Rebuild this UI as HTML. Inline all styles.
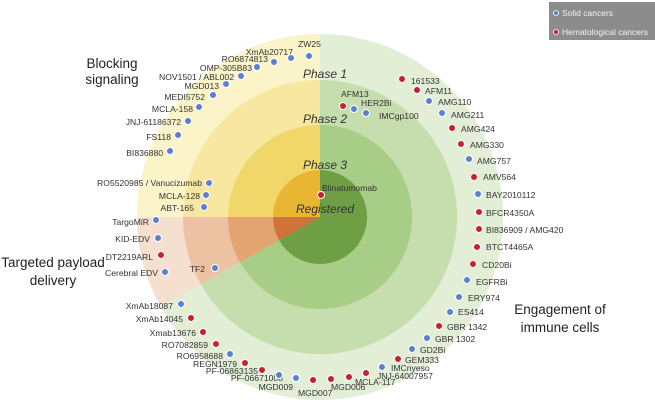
<!DOCTYPE html>
<html><head><meta charset="utf-8"><style>
html,body{margin:0;padding:0;background:#fff;}
svg{display:block;font-family:"Liberation Sans",sans-serif;}
.l{font-size:8.6px;fill:#333;}
.e{text-anchor:end;}
.ph{font-size:12px;font-style:italic;fill:#333;}
.big{font-size:13.5px;fill:#222;text-anchor:middle;}
.b{fill:#5b7fd1;stroke:#fff;stroke-width:1;}
.r{fill:#c8202f;stroke:#fff;stroke-width:1;}
</style></head><body>
<svg width="655" height="407" viewBox="0 0 655 407" xmlns="http://www.w3.org/2000/svg">
<path d="M320 217 L320 34 A183 183 0 1 1 160.8 307 Z" fill="#e2eed6"/>
<path d="M320 217 L160.8 307 A183 183 0 0 1 137 217 Z" fill="#f5dfcf"/>
<path d="M320 217 L137 217 A183 183 0 0 1 320 34 Z" fill="#fbf4c8"/>
<path d="M320 217 L320 80 A137 137 0 1 1 200.8 284.4 Z" fill="#c6deae"/>
<path d="M320 217 L200.8 284.4 A137 137 0 0 1 183 217 Z" fill="#ecc2a2"/>
<path d="M320 217 L183 217 A137 137 0 0 1 320 80 Z" fill="#f7e7a0"/>
<path d="M320 217 L320 125 A92 92 0 1 1 240 262.3 Z" fill="#a8cd86"/>
<path d="M320 217 L240 262.3 A92 92 0 0 1 228 217 Z" fill="#e3a471"/>
<path d="M320 217 L228 217 A92 92 0 0 1 320 125 Z" fill="#f1d66a"/>
<path d="M320 217 L320 170 A47 47 0 1 1 279.1 240.1 Z" fill="#6f9f45"/>
<path d="M320 217 L279.1 240.1 A47 47 0 0 1 273 217 Z" fill="#d0733a"/>
<path d="M320 217 L273 217 A47 47 0 0 1 320 170 Z" fill="#e8b632"/>

<text class="ph" x="303" y="78">Phase 1</text>
<text class="ph" x="303" y="123">Phase 2</text>
<text class="ph" x="303" y="169">Phase 3</text>
<text class="ph" x="296" y="213">Registered</text>

<text class="big" x="112" y="68">Blocking</text>
<text class="big" x="112" y="84">signaling</text>
<text class="big" x="53" y="267">Targeted payload</text>
<text class="big" x="53" y="285">delivery</text>
<text class="big" x="560" y="314">Engagement of</text>
<text class="big" x="560" y="332">immune cells</text>

<rect x="549" y="2" width="106" height="38" fill="#8c8c8c"/>
<circle cx="556" cy="13" r="2.5" fill="#5b7fd1" stroke="#fff" stroke-width="0.8"/>
<text x="562" y="16" font-size="8.5" fill="#f2f2f2">Solid cancers</text>
<circle cx="556" cy="32" r="2.5" fill="#c8202f" stroke="#fff" stroke-width="0.8"/>
<text x="562" y="35" font-size="8.5" fill="#f2f2f2">Hematological cancers</text>

<text class="l" x="298" y="47">ZW25</text><circle class="b" cx="309" cy="56" r="3.5"/>
<text class="l e" x="293" y="55">XmAb20717</text><circle class="b" cx="291" cy="58" r="3.5"/>
<text class="l e" x="268" y="62">RO6874813</text><circle class="b" cx="274" cy="62" r="3.5"/>
<text class="l e" x="252" y="71">OMP-305B83</text><circle class="b" cx="257" cy="67" r="3.5"/>
<text class="l e" x="234" y="80">NOV1501 / ABL002</text><circle class="b" cx="241" cy="76" r="3.5"/>
<text class="l e" x="219" y="89">MGD013</text><circle class="b" cx="226" cy="84" r="3.5"/>
<text class="l e" x="205" y="100">MEDI5752</text><circle class="b" cx="213" cy="95" r="3.5"/>
<text class="l e" x="193" y="112">MCLA-158</text><circle class="b" cx="199" cy="107" r="3.5"/>
<text class="l e" x="181" y="125">JNJ-61186372</text><circle class="b" cx="188" cy="121" r="3.5"/>
<text class="l e" x="171" y="140">FS118</text><circle class="b" cx="178" cy="135" r="3.5"/>
<text class="l e" x="163" y="156">BI836880</text><circle class="b" cx="170" cy="151" r="3.5"/>
<text class="l e" x="202" y="186">RO5520985 / Vanucizumab</text><circle class="b" cx="209" cy="183" r="3.5"/>
<text class="l e" x="200" y="199">MCLA-128</text><circle class="b" cx="206" cy="195" r="3.5"/>
<text class="l e" x="194" y="211">ABT-165</text><circle class="b" cx="204" cy="207" r="3.5"/>

<text class="l e" x="149" y="225">TargoMiR</text><circle class="b" cx="156" cy="220" r="3.5"/>
<text class="l e" x="150" y="242">KID-EDV</text><circle class="b" cx="158" cy="238" r="3.5"/>
<text class="l e" x="153" y="260">DT2219ARL</text><circle class="r" cx="161" cy="255" r="3.5"/>
<text class="l e" x="158" y="276">Cerebral EDV</text><circle class="b" cx="165" cy="272" r="3.5"/>
<text class="l e" x="205" y="272">TF2</text><circle class="b" cx="215" cy="268" r="3.5"/>

<text class="l e" x="173" y="309">XmAb18087</text><circle class="b" cx="181" cy="304" r="3.5"/>
<text class="l e" x="183" y="322">XmAb14045</text><circle class="r" cx="191" cy="318" r="3.5"/>
<text class="l e" x="196" y="336">Xmab13676</text><circle class="r" cx="203" cy="332" r="3.5"/>
<text class="l e" x="208" y="348">RO7082859</text><circle class="r" cx="216" cy="344" r="3.5"/>
<text class="l e" x="223" y="359">RO6958688</text><circle class="b" cx="230" cy="354" r="3.5"/>
<text class="l e" x="237" y="367">REGN1979</text><circle class="r" cx="245" cy="363" r="3.5"/>
<text class="l e" x="258" y="374">PF-06863135</text><circle class="r" cx="262" cy="370" r="3.5"/>
<text class="l e" x="283" y="381">PF-06671008</text><circle class="b" cx="279" cy="375" r="3.5"/>
<text class="l e" x="293" y="390">MGD009</text><circle class="b" cx="296" cy="378" r="3.5"/>
<text class="l" x="298" y="396">MGD007</text><circle class="r" cx="313" cy="380" r="3.5"/>
<text class="l" x="331" y="390">MGD006</text><circle class="r" cx="331" cy="379" r="3.5"/>
<text class="l" x="355" y="385">MCLA-117</text><circle class="r" cx="349" cy="377" r="3.5"/>
<text class="l" x="377" y="379">JNJ-64007957</text><circle class="r" cx="366" cy="373" r="3.5"/>
<text class="l" x="391" y="371">IMCnyeso</text><circle class="b" cx="382" cy="367" r="3.5"/>
<text class="l" x="405" y="363">GEM333</text><circle class="r" cx="398" cy="359" r="3.5"/>
<text class="l" x="420" y="353">GD2Bi</text><circle class="b" cx="412" cy="349" r="3.5"/>
<text class="l" x="435" y="342">GBR 1302</text><circle class="b" cx="427" cy="338" r="3.5"/>
<text class="l" x="447" y="330">GBR 1342</text><circle class="r" cx="439" cy="326" r="3.5"/>
<text class="l" x="458" y="315">ES414</text><circle class="b" cx="450" cy="312" r="3.5"/>
<text class="l" x="468" y="301">ERY974</text><circle class="b" cx="459" cy="297" r="3.5"/>
<text class="l" x="476" y="285">EGFRBi</text><circle class="b" cx="467" cy="280" r="3.5"/>
<text class="l" x="482" y="268">CD20Bi</text><circle class="r" cx="473" cy="264" r="3.5"/>
<text class="l" x="486" y="250">BTCT4465A</text><circle class="r" cx="477" cy="247" r="3.5"/>
<text class="l" x="486" y="233">BI836909 / AMG420</text><circle class="r" cx="479" cy="229" r="3.5"/>
<text class="l" x="486" y="216">BFCR4350A</text><circle class="r" cx="479" cy="212" r="3.5"/>
<text class="l" x="486" y="198">BAY2010112</text><circle class="b" cx="478" cy="194" r="3.5"/>
<text class="l" x="483" y="180">AMV564</text><circle class="r" cx="474" cy="177" r="3.5"/>
<text class="l" x="477" y="164">AMG757</text><circle class="b" cx="469" cy="159" r="3.5"/>
<text class="l" x="470" y="148">AMG330</text><circle class="r" cx="461" cy="144" r="3.5"/>
<text class="l" x="461" y="132">AMG424</text><circle class="r" cx="452" cy="128" r="3.5"/>
<text class="l" x="451" y="118">AMG211</text><circle class="b" cx="442" cy="113" r="3.5"/>
<text class="l" x="438" y="105">AMG110</text><circle class="b" cx="429" cy="101" r="3.5"/>
<text class="l" x="425" y="94">AFM11</text><circle class="r" cx="417" cy="90" r="3.5"/>
<text class="l" x="411" y="84">161533</text><circle class="r" cx="402" cy="79" r="3.5"/>

<text class="l" x="341" y="97">AFM13</text><circle class="r" cx="343" cy="106" r="3.5"/>
<text class="l" x="361" y="106">HER2Bi</text><circle class="b" cx="354" cy="109" r="3.5"/>
<text class="l" x="379" y="119">IMCgp100</text><circle class="b" cx="366" cy="113" r="3.5"/>
<text class="l" x="322" y="191">Blinatumomab</text><circle class="r" cx="321" cy="195" r="3.5"/>
</svg>
</body></html>
